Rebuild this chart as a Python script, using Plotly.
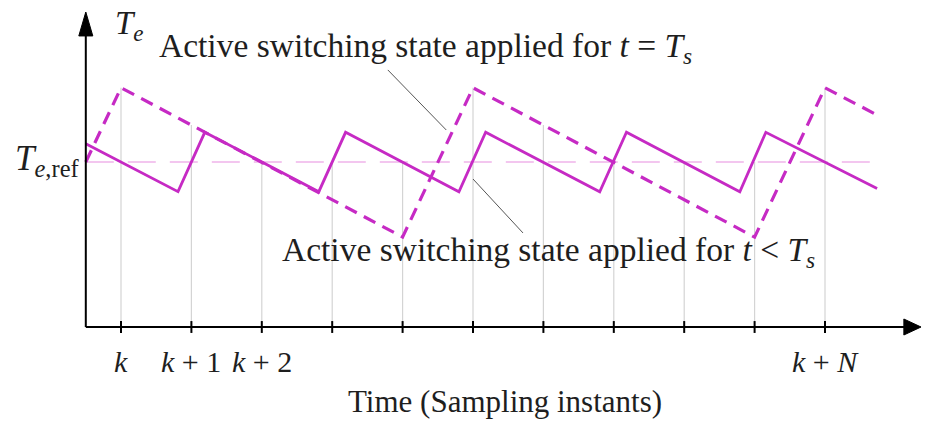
import numpy as np
import plotly.graph_objects as go

# ---- data (time in sampling periods, torque in normalised units; Te_ref = 1) ----
instants = list(range(0, 11))                      # sampling instants k ... k+N
tick_pos = [0, 1, 2, 10]
tick_labels = ["<i>k</i>", "<i>k</i> + 1", "<i>k</i> + 2", "<i>k</i> + <i>N</i>"]

te_ref = 1.0
ref_t = [-0.5, 10.74]

# Active state applied for t < Ts (solid)
solid_t = [-0.5, 0.81, 1.19, 2.81, 3.19, 4.80, 5.18, 6.80, 7.18, 8.79, 9.16, 10.74]
solid_v = [1.11, 0.82, 1.18, 0.82, 1.18, 0.82, 1.18, 0.82, 1.18, 0.82, 1.18, 0.84]

# Active state applied for t = Ts (dashed)
dash_t = [-0.5, 0.0, 4.0, 5.0, 9.0, 10.0, 10.74]
dash_v = [1.00, 1.45, 0.545, 1.45, 0.545, 1.45, 1.285]

MAG = "#c62ac4"
FONT = "Liberation Serif"
TXT = "#1e1e1e"

fig = go.Figure()

# vertical grid lines at the sampling instants, up to the upper trajectory / reference
for k in instants:
    top = max(te_ref, float(np.interp(k, dash_t, dash_v)))
    fig.add_shape(type="line", x0=k, x1=k, y0=0, y1=top, xref="x", yref="y",
                  line=dict(color="#d4d4d4", width=1.2), layer="below")

# reference line
fig.add_trace(go.Scatter(x=ref_t, y=[te_ref, te_ref], mode="lines",
                         line=dict(color="#f0b4ea", width=1.6, dash="28px,14px"),
                         hoverinfo="skip", showlegend=False))

# dashed trajectory
fig.add_trace(go.Scatter(x=dash_t, y=dash_v, mode="lines",
                         line=dict(color=MAG, width=3.2, dash="13px,8px"),
                         hoverinfo="skip", showlegend=False))
# solid trajectory
fig.add_trace(go.Scatter(x=solid_t, y=solid_v, mode="lines",
                         line=dict(color=MAG, width=2.8),
                         hoverinfo="skip", showlegend=False))

# axes
x0, x_end = -0.5, 11.2
y_end = 1.80
fig.add_shape(type="line", x0=x0, x1=x_end, y0=0, y1=0, line=dict(color="black", width=2))
fig.add_shape(type="line", x0=x0, x1=x0, y0=0, y1=y_end, line=dict(color="black", width=2))
# arrow heads
fig.add_trace(go.Scatter(x=[11.12, 11.364, 11.12, 11.12], y=[0.0485, 0, -0.0485, 0.0485],
                         fill="toself", fillcolor="black", mode="lines",
                         line=dict(color="black", width=1), hoverinfo="skip", showlegend=False))
fig.add_trace(go.Scatter(x=[x0 - 0.0994, x0, x0 + 0.0994, x0 - 0.0994], y=[1.764, 1.909, 1.764, 1.764],
                         fill="toself", fillcolor="black", mode="lines",
                         line=dict(color="black", width=1), hoverinfo="skip", showlegend=False))
# tick marks crossing the axis
for k in instants:
    fig.add_shape(type="line", x0=k, x1=k, y0=-0.036, y1=0.036,
                  line=dict(color="black", width=2))

# tick labels
for p, lab in zip(tick_pos, tick_labels):
    fig.add_annotation(x=p, y=-0.212, text=lab, showarrow=False,
                       font=dict(family=FONT, size=30, color=TXT), xanchor="center", yanchor="middle")

# axis titles
fig.add_annotation(x=5.45, y=-0.4545, text="Time (Sampling instants)", showarrow=False,
                   font=dict(family=FONT, size=31, color=TXT), xanchor="center", yanchor="middle")
fig.add_annotation(x=-0.12, y=1.83, text="<i>T</i><sub><i>e</i></sub>", showarrow=False,
                   font=dict(family=FONT, size=33, color=TXT), xanchor="left", yanchor="middle")
fig.add_annotation(x=-0.56, y=1.01, text="<i>T</i><sub><i>e</i>,ref</sub>", showarrow=False,
                   font=dict(family=FONT, size=35, color=TXT), xanchor="right", yanchor="middle")

# callouts
fig.add_annotation(x=4.32, y=1.69,
                   text="Active switching state applied for <i>t</i> = <i>T</i><sub><i>s</i></sub>",
                   showarrow=False, font=dict(family=FONT, size=33.5, color=TXT),
                   xanchor="center", yanchor="middle")
fig.add_shape(type="line", x0=3.79, y0=1.558, x1=4.62, y1=1.194, line=dict(color="#555", width=1))
fig.add_annotation(x=6.07, y=0.455,
                   text="Active switching state applied for <i>t</i> &lt; <i>T</i><sub><i>s</i></sub>",
                   showarrow=False, font=dict(family=FONT, size=33.5, color=TXT),
                   xanchor="center", yanchor="middle")
fig.add_shape(type="line", x0=5.0, y0=0.897, x1=5.71, y1=0.570, line=dict(color="#555", width=1))

fig.update_layout(
    width=925, height=423, margin=dict(l=0, r=0, t=0, b=0),
    paper_bgcolor="white", plot_bgcolor="white",
    xaxis=dict(range=[-121 / 70.4, (925 - 121) / 70.4], visible=False, fixedrange=True),
    yaxis=dict(range=[(327 - 423) / 165, 327 / 165], visible=False, fixedrange=True),
    showlegend=False,
)

fig.write_html("out.html")
